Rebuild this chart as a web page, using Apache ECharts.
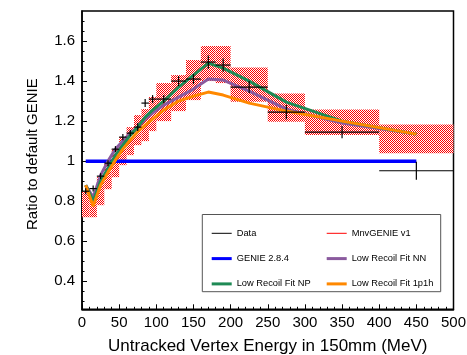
<!DOCTYPE html>
<html><head><meta charset="utf-8">
<script src="https://cdn.jsdelivr.net/npm/echarts@6/dist/echarts.min.js"></script>
<style>html,body{margin:0;padding:0;background:#fff}#c{width:467px;height:355px}</style>
</head><body><div id="c"></div>
<script>
// ---- data ----
const binLo = [0,10,20,30,40,50,60,70,80,90,100,120,140,160,180,200,250,300,400];
const binHi = [10,20,30,40,50,60,70,80,90,100,120,140,160,180,200,250,300,400,500];
const dataVal = [0.85,0.863,0.925,0.99,1.06,1.12,1.14,1.17,1.29,1.31,1.31,1.40,1.41,1.495,1.48,1.37,1.245,1.145,0.952];
const dataErr = [0.015,0.015,0.015,0.015,0.015,0.015,0.015,0.02,0.02,0.02,0.02,0.025,0.025,0.033,0.033,0.03,0.036,0.03,0.045];
const mnvVal = [0.88,0.80,0.90,0.965,1.03,1.08,1.13,1.17,1.22,1.255,1.30,1.37,1.43,1.49,1.465,1.40,1.295,1.20,1.135];
const mnvLo = [0.72,0.72,0.78,0.86,0.92,0.98,1.03,1.08,1.10,1.15,1.20,1.25,1.305,1.40,1.39,1.297,1.197,1.13,1.04];
const mnvHi = [0.85,0.83,0.92,0.99,1.06,1.12,1.17,1.23,1.26,1.32,1.39,1.43,1.505,1.575,1.575,1.468,1.338,1.258,1.183];
const genieVal = [1,1,1,1,1,1,1,1,1,1,1,1,1,1,1,1,1,1,1];
const fitNN = [0.88,0.82,0.93,1.0,1.06,1.10,1.14,1.17,1.21,1.24,1.28,1.32,1.36,1.41,1.405,1.35,1.26,1.19,1.135];
const fitNP = [0.88,0.80,0.90,0.965,1.03,1.08,1.13,1.17,1.22,1.255,1.30,1.37,1.43,1.49,1.465,1.40,1.295,1.20,1.135];
const fit1p1h = [0.88,0.775,0.88,0.945,1.005,1.06,1.105,1.147,1.18,1.21,1.255,1.30,1.325,1.345,1.33,1.29,1.25,1.20,1.135];
const yLabelValues = [0.4,0.6,0.8,1.0,1.2,1.4,1.6];
const yMinorValues = [0.3,0.35,0.45,0.5,0.55,0.65,0.7,0.75,0.85,0.9,0.95,1.05,1.1,1.15,1.25,1.3,1.35,1.45,1.5,1.55,1.65,1.7];

// ---- derived ----
const centers = binLo.map((l,i)=>(l+binHi[i])/2);
const pair = arr => arr.map((v,i)=>[centers[i], v]);

const pc = document.createElement('canvas'); pc.width = 2; pc.height = 2;
const g = pc.getContext('2d');
g.fillStyle = '#ffffff'; g.fillRect(0,0,2,2);
g.fillStyle = '#ff0000'; g.fillRect(0,0,1,1); g.fillRect(1,1,1,1);

const FONT = 'Liberation Sans, Arial, Helvetica, sans-serif';
const C = {data:'#000000', mnv:'#ff0000', genie:'#0000ff', nn:'#8a5a9e', np:'#1f8a55', p1h:'#ff8800'};

const chart = echarts.init(document.getElementById('c'), null, {renderer:'canvas'});
const thin = 'path://M0,0M20,6M0,2.5h20v1h-20z';
const thick = 'path://M0,0M20,6M0,1.5h20v3h-20z';
const legendCommon = {
  orient:'vertical', itemWidth:20, itemHeight:6, itemGap:13.3,
  textStyle:{fontFamily:FONT, fontSize:9.3, color:'#000', lineHeight:12},
  selectedMode:false
};
chart.setOption({
  animation:false,
  grid:{left:82, right:13.5, top:11, bottom:45.7, show:true, borderColor:'#000', borderWidth:1.5,
    backgroundColor:'transparent', containLabel:false, outerBoundsMode:'none'},
  xAxis:{type:'value', min:0, max:500, interval:50,
    name:'Untracked Vertex Energy in 150mm (MeV)', nameLocation:'middle', nameGap:29,
    nameTextStyle:{fontFamily:FONT, fontSize:17, color:'#000'},
    axisLine:{lineStyle:{color:'#000', width:1.5}},
    axisTick:{inside:true, length:5, lineStyle:{color:'#000'}},
    minorTick:{show:true, splitNumber:5, length:2.5, lineStyle:{color:'#000'}},
    splitLine:{show:false},
    axisLabel:{fontFamily:FONT, fontSize:15, color:'#000', margin:6}
  },
  yAxis:[{type:'value', min:0.26, max:1.75,
    name:'Ratio to default GENIE', nameLocation:'middle', nameGap:42,
    nameTextStyle:{fontFamily:FONT, fontSize:15, color:'#000', padding:[0,0,0,12]},
    axisLine:{show:true, lineStyle:{color:'#000', width:1.5}},
    axisTick:{inside:true, length:5, customValues:yLabelValues, lineStyle:{color:'#000'}},
    splitLine:{show:false},
    axisLabel:{fontFamily:FONT, fontSize:15, color:'#000', margin:7, customValues:yLabelValues,
      formatter:v=>String(parseFloat(Number(v).toFixed(2)))}
  },{type:'value', min:0.26, max:1.75, position:'left',
    axisLine:{show:false}, splitLine:{show:false}, axisLabel:{show:false},
    axisTick:{show:true, inside:true, length:2.5, customValues:yMinorValues, lineStyle:{color:'#000'}}
  }],
  legend:[
    Object.assign({left:206.7, top:222.3, data:[
      {name:'Data', icon:thin},
      {name:'GENIE 2.8.4', icon:thick},
      {name:'Low Recoil Fit NP', icon:thick}]}, legendCommon),
    Object.assign({left:321.7, top:222.3, data:[
      {name:'MnvGENIE v1', icon:thin},
      {name:'Low Recoil Fit NN', icon:thick},
      {name:'Low Recoil Fit 1p1h', icon:thick}]}, legendCommon)
  ],
  graphic:[{type:'rect', shape:{x:202.3, y:214.5, width:238.4, height:77.2},
    style:{fill:'#fff', stroke:'#555', lineWidth:1}, z:-1, zlevel:0}],
  series:[
    {name:'MnvGENIE v1', type:'custom', z:1, color:C.mnv,
     data:binLo.map((l,i)=>[l, binHi[i], mnvLo[i], mnvHi[i]]),
     renderItem:(params, api)=>{
       const p1 = api.coord([api.value(0), api.value(3)]);
       const p2 = api.coord([api.value(1), api.value(2)]);
       return {type:'rect', shape:{x:p1[0], y:p1[1], width:p2[0]-p1[0], height:p2[1]-p1[1]},
         style:{fill:{image:pc, repeat:'repeat'}}};
     }},
    {name:'MnvGENIE v1', type:'line', z:2, data:pair(mnvVal), symbol:'none', color:C.mnv, lineStyle:{width:1.2, color:C.mnv}},
    {name:'GENIE 2.8.4', type:'line', z:3, data:pair(genieVal), symbol:'none', color:C.genie, lineStyle:{width:3.5, color:C.genie}},
    {name:'Low Recoil Fit NN', type:'line', z:4, data:pair(fitNN), symbol:'none', color:C.nn, lineStyle:{width:3, color:C.nn}},
    {name:'Low Recoil Fit NP', type:'line', z:5, data:pair(fitNP), symbol:'none', color:C.np, lineStyle:{width:3, color:C.np}},
    {name:'Low Recoil Fit 1p1h', type:'line', z:6, data:pair(fit1p1h), symbol:'none', color:C.p1h, lineStyle:{width:3, color:C.p1h}},
    {name:'Data', type:'custom', z:10, color:C.data,
     data:binLo.map((l,i)=>[l, binHi[i], dataVal[i], dataErr[i]]),
     renderItem:(params, api)=>{
       const lo = api.value(0), hi = api.value(1), v = api.value(2), e = api.value(3);
       const a = api.coord([lo, v]), b = api.coord([hi, v]);
       const c = api.coord([(lo+hi)/2, v+e]), d = api.coord([(lo+hi)/2, v-e]);
       const st = {stroke:'#000', lineWidth:1.2};
       return {type:'group', children:[
         {type:'line', shape:{x1:a[0], y1:a[1], x2:b[0], y2:b[1]}, style:st},
         {type:'line', shape:{x1:c[0], y1:c[1], x2:d[0], y2:d[1]}, style:st}
       ]};
     }}
  ]
});
</script></body></html>
